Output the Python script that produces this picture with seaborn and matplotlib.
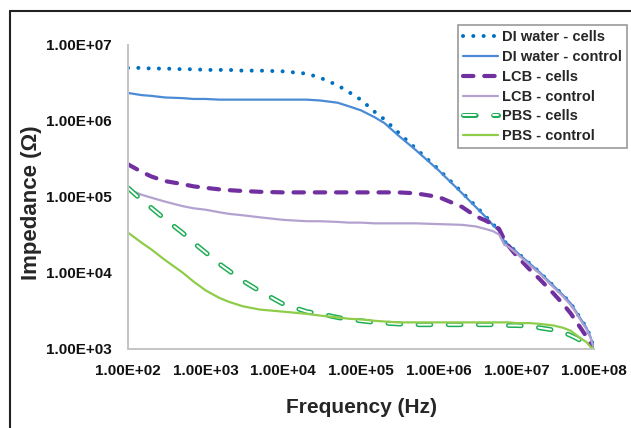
import numpy as np
import pandas as pd
import matplotlib.pyplot as plt
import matplotlib.patheffects as pe
from matplotlib.lines import Line2D
from matplotlib.ticker import FuncFormatter, LogLocator, NullFormatter
import seaborn as sns

# Frequency grid (Hz)
freq = [1e2, 1.5e2, 2e2, 3e2, 5e2, 7e2, 1e3, 1.5e3, 2e3, 3e3, 5e3,
        1e4, 2e4, 3e4, 5e4, 7e4, 1e5, 1.5e5, 2e5, 3e5, 5e5,
        1e6, 2e6, 3e6, 4e6, 5e6, 6e6, 7e6, 8e6,
        1e7, 1.5e7, 2e7, 3e7, 4e7, 5e7, 6e7, 7e7, 8e7, 9e7, 1e8]

# Impedance (Ohm)
di_cells = [5.0e6, 5.0e6, 4.9e6, 4.9e6, 4.8e6, 4.8e6, 4.7e6, 4.7e6, 4.7e6, 4.6e6, 4.6e6,
            4.5e6, 4.2e6, 3.7e6, 2.95e6, 2.4e6, 1.9e6, 1.32e6, 1.05e6, 7.1e5, 4.4e5,
            2.3e5, 1.15e5, 7.6e4, 5.6e4, 4.4e4, 3.6e4, 2.6e4, 2.35e4,
            1.9e4, 1.32e4, 1.02e4, 6.8e3, 5.1e3, 4.0e3, 3.0e3, 2.35e3, 1.9e3, 1.45e3, 1.0e3]
di_control = [2.34e6, 2.19e6, 2.14e6, 2.04e6, 2.0e6, 1.95e6, 1.95e6, 1.91e6, 1.91e6, 1.91e6, 1.91e6,
              1.91e6, 1.91e6, 1.86e6, 1.74e6, 1.56e6, 1.38e6, 1.12e6, 9.4e5, 6.5e5, 4.2e5,
              2.24e5, 1.12e5, 7.4e4, 5.5e4, 4.27e4, 3.55e4, 2.6e4, 2.35e4,
              1.9e4, 1.32e4, 1.02e4, 6.8e3, 5.1e3, 4.0e3, 3.0e3, 2.35e3, 1.9e3, 1.45e3, 1.0e3]
lcb_cells = [2.69e5, 2.14e5, 1.86e5, 1.62e5, 1.48e5, 1.38e5, 1.32e5, 1.26e5, 1.23e5, 1.20e5, 1.17e5,
             1.15e5, 1.15e5, 1.15e5, 1.15e5, 1.15e5, 1.15e5, 1.15e5, 1.15e5, 1.15e5, 1.12e5,
             1.0e5, 7.4e4, 5.6e4, 4.9e4, 4.37e4, 3.8e4, 2.75e4, 2.24e4,
             1.7e4, 1.1e4, 8.3e3, 5.4e3, 3.9e3, 2.95e3, 2.24e3, 1.78e3, 1.45e3, 1.17e3, 1.0e3]
lcb_control = [1.26e5, 1.07e5, 9.8e4, 8.7e4, 7.6e4, 7.1e4, 6.8e4, 6.3e4, 6.0e4, 5.75e4, 5.4e4,
               5.0e4, 4.8e4, 4.8e4, 4.7e4, 4.6e4, 4.6e4, 4.5e4, 4.5e4, 4.5e4, 4.5e4,
               4.4e4, 4.3e4, 4.1e4, 3.8e4, 3.55e4, 3.2e4, 2.35e4, 2.2e4,
               1.82e4, 1.26e4, 9.8e3, 6.5e3, 4.9e3, 3.8e3, 2.9e3, 2.24e3, 1.82e3, 1.41e3, 1.0e3]
pbs_cells = [1.32e5, 9.1e4, 7.2e4, 5.1e4, 3.4e4, 2.5e4, 1.86e4, 1.32e4, 1.07e4, 7.9e3, 5.75e3,
             3.9e3, 3.1e3, 2.9e3, 2.6e3, 2.45e3, 2.35e3, 2.24e3, 2.19e3, 2.14e3, 2.09e3,
             2.09e3, 2.09e3, 2.09e3, 2.09e3, 2.09e3, 2.09e3, 2.09e3, 2.04e3,
             2.04e3, 2.0e3, 1.9e3, 1.78e3, 1.66e3, 1.51e3, 1.38e3, 1.26e3, 1.17e3, 1.10e3, 1.0e3]
pbs_control = [3.4e4, 2.5e4, 2.04e4, 1.48e4, 1.02e4, 7.7e3, 5.9e3, 4.7e3, 4.17e3, 3.65e3, 3.3e3,
               3.1e3, 2.9e3, 2.75e3, 2.6e3, 2.5e3, 2.45e3, 2.35e3, 2.3e3, 2.24e3, 2.24e3,
               2.24e3, 2.24e3, 2.24e3, 2.24e3, 2.24e3, 2.24e3, 2.24e3, 2.24e3,
               2.19e3, 2.19e3, 2.14e3, 2.04e3, 1.9e3, 1.74e3, 1.51e3, 1.35e3, 1.23e3, 1.07e3, 1.0e3]

sns.set_theme(style='white')
plt.rcParams['font.family'] = ['Liberation Sans', 'DejaVu Sans']
plt.rcParams['font.weight'] = 'bold'

fig = plt.figure(figsize=(6.31, 4.28), dpi=100)
ax = fig.add_axes([128 / 631, 1 - 349 / 428, (594 - 128) / 631, (349 - 45) / 428])

# DI water - cells: round dots
sns.lineplot(x=freq, y=di_cells, ax=ax, color='#0070C0', lw=2.9,
             linestyle=(0, (0.01, 2.55)), dash_capstyle='round',
             label='DI water - cells')
sns.lineplot(x=freq, y=di_control, ax=ax, color='#4a8bd6', lw=1.6,
             label='DI water - control')
sns.lineplot(x=freq, y=lcb_cells, ax=ax, color='#7030A0', lw=3.0,
             linestyle=(0, (2.5, 2.6)), dash_capstyle='round',
             label='LCB - cells')
sns.lineplot(x=freq, y=lcb_control, ax=ax, color='#b3a2cf', lw=1.6,
             label='LCB - control')
# PBS - cells: green outlined dashes
sns.lineplot(x=freq, y=pbs_cells, ax=ax, color='white', lw=1.4,
             linestyle=(0, (6.5, 9)), dash_capstyle='round',
             path_effects=[pe.Stroke(linewidth=3.6, foreground='#1fae55'), pe.Normal()],
             label='PBS - cells')
sns.lineplot(x=freq, y=pbs_control, ax=ax, color='#8fcc4a', lw=1.6,
             label='PBS - control')

ax.set_xscale('log')
ax.set_yscale('log')
ax.set_xlim(1e2, 1e8)
ax.set_ylim(1e3, 1e7)

fmt = FuncFormatter(lambda v, pos: f'{v:.2E}')
for axis in (ax.xaxis, ax.yaxis):
    axis.set_major_locator(LogLocator(base=10, numticks=10))
    axis.set_major_formatter(fmt)
    axis.set_minor_locator(LogLocator(base=10, subs=np.arange(2, 10), numticks=10))
    axis.set_minor_formatter(NullFormatter())

ax.tick_params(axis='both', which='major', labelsize=11, length=0, colors='#111111')
ax.tick_params(axis='x', which='major', pad=11)
ax.tick_params(axis='y', which='major', pad=12)
ax.tick_params(axis='both', which='minor', length=3, width=0.8, direction='in',
               color='#bfbfbf')
ax.tick_params(axis='y', which='minor', direction='inout')

for s in ['top', 'right']:
    ax.spines[s].set_visible(False)
for s in ['left', 'bottom']:
    ax.spines[s].set_color('#c4c4c4')
    ax.spines[s].set_linewidth(1.4)

ax.set_xlabel('Frequency (Hz)', fontsize=15, fontweight='bold', labelpad=14)
ax.set_ylabel('Impedance (Ω)', fontsize=16, fontweight='bold')
ax.yaxis.set_label_coords(-0.185, 0.48)

leg = ax.legend(loc='upper left', bbox_to_anchor=(458 / 631, 1 - 25 / 428),
                bbox_transform=fig.transFigure, fontsize=10.5, frameon=True,
                fancybox=False, borderpad=0.35, borderaxespad=0,
                handlelength=2.4, handletextpad=0.25, labelspacing=0.4,
                framealpha=1)
leg.get_frame().set_edgecolor('#9a9a9a')
leg.get_frame().set_linewidth(1.2)
for t in leg.get_texts():
    t.set_fontweight('bold')

# outer frame of the figure
fig.add_artist(Line2D([10 / 631, 10 / 631], [0, 1 - 11 / 428], color='#222222',
                      lw=1.5, transform=fig.transFigure))
fig.add_artist(Line2D([10 / 631, 1], [1 - 11 / 428, 1 - 11 / 428], color='#222222',
                      lw=1.5, transform=fig.transFigure))

fig.savefig('out.png', dpi=100)
